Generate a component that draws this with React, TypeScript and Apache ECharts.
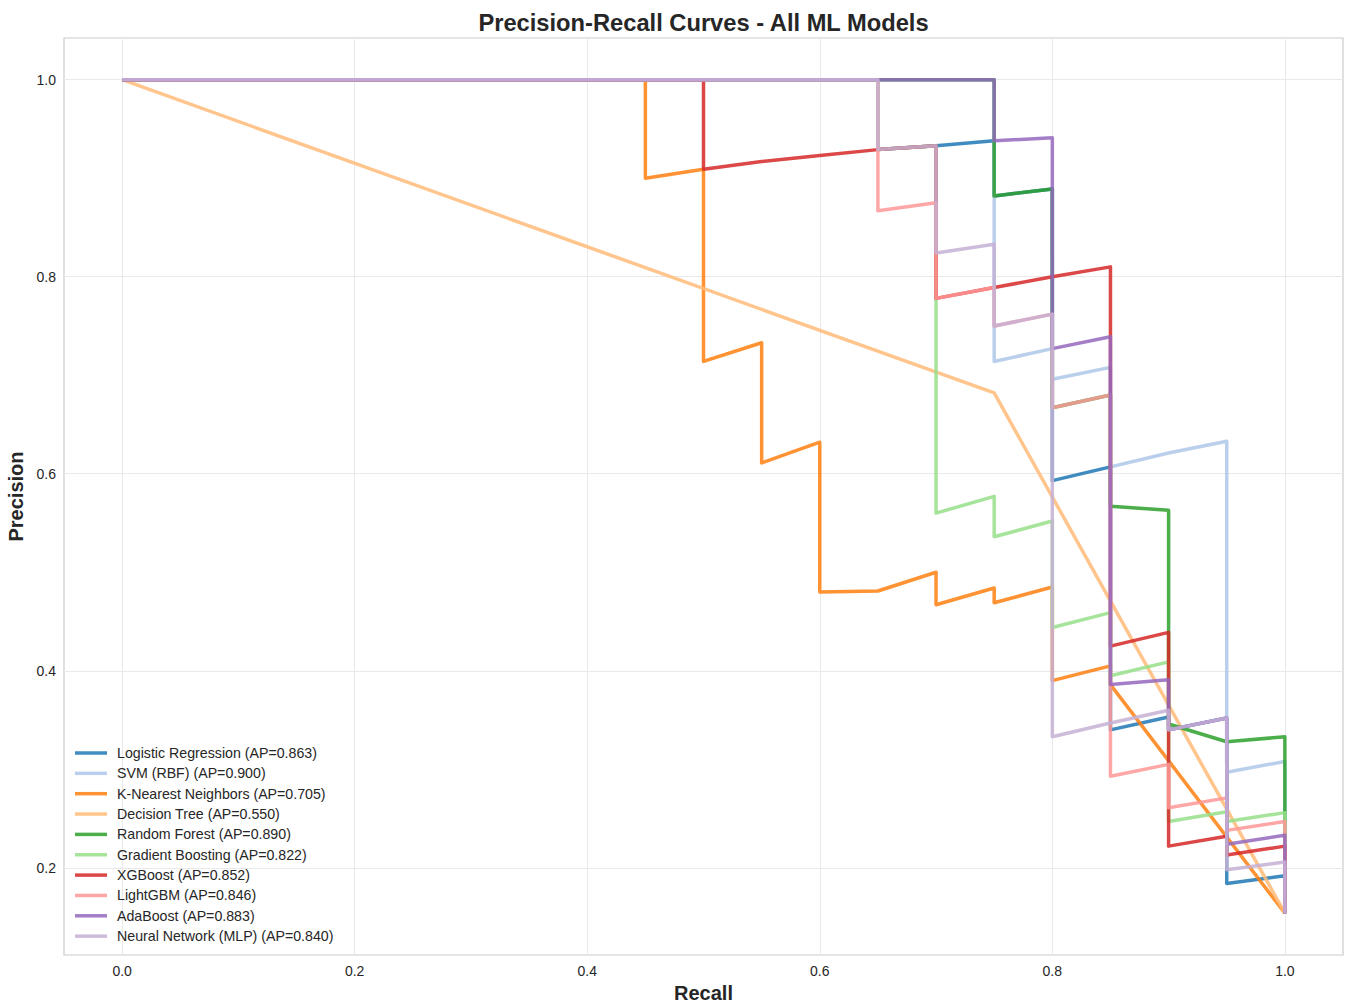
import React, { useEffect, useRef } from "react";
import * as echarts from "echarts";

// ---------- data ----------
const modelNames = [
  "Logistic Regression",
  "SVM (RBF)",
  "K-Nearest Neighbors",
  "Decision Tree",
  "Random Forest",
  "Gradient Boosting",
  "XGBoost",
  "LightGBM",
  "AdaBoost",
  "Neural Network (MLP)",
];
const modelAP = ["0.863", "0.900", "0.705", "0.550", "0.890", "0.822", "0.852", "0.846", "0.883", "0.840"];
const modelColors = [
  "#1f77b4", "#aec7e8", "#ff7f0e", "#ffbb78", "#2ca02c",
  "#98df8a", "#d62728", "#ff9896", "#9467bd", "#c5b0d5",
];

const lrRecall = [0, 0.65, 0.65, 0.7, 0.75, 0.75, 0.8, 0.8, 0.85, 0.85, 0.9, 0.9, 0.95, 0.95, 1.0, 1.0];
const lrPrecision = [1, 1, 0.929, 0.933, 0.938, 0.882, 0.889, 0.593, 0.607, 0.34, 0.353, 0.34, 0.352, 0.184, 0.192, 0.154];

const svmRecall = [0, 0.75, 0.75, 0.8, 0.8, 0.85, 0.85, 0.9, 0.95, 0.95, 1.0, 1.0];
const svmPrecision = [1, 1, 0.714, 0.727, 0.696, 0.708, 0.607, 0.621, 0.633, 0.297, 0.308, 0.154];

const knnRecall = [0, 0.45, 0.45, 0.5, 0.5, 0.55, 0.55, 0.6, 0.6, 0.65, 0.7, 0.7, 0.75, 0.75, 0.8, 0.8, 0.85, 0.85, 1.0];
const knnPrecision = [1, 1, 0.9, 0.909, 0.714, 0.733, 0.611, 0.632, 0.48, 0.481, 0.5, 0.467, 0.484, 0.469, 0.485, 0.39, 0.405, 0.386, 0.154];

const dtRecall = [0, 0.75, 1.0];
const dtPrecision = [1, 0.682, 0.154];

const rfRecall = [0, 0.75, 0.75, 0.8, 0.8, 0.85, 0.85, 0.9, 0.9, 0.95, 1.0, 1.0];
const rfPrecision = [1, 1, 0.882, 0.889, 0.667, 0.68, 0.567, 0.563, 0.346, 0.328, 0.333, 0.154];

const gbRecall = [0, 0.65, 0.65, 0.7, 0.7, 0.75, 0.75, 0.8, 0.8, 0.85, 0.85, 0.9, 0.9, 0.95, 0.95, 1.0, 1.0];
const gbPrecision = [1, 1, 0.929, 0.933, 0.56, 0.577, 0.536, 0.552, 0.444, 0.459, 0.395, 0.409, 0.247, 0.257, 0.247, 0.256, 0.154];

const xgbRecall = [0, 0.5, 0.5, 0.55, 0.6, 0.65, 0.7, 0.7, 0.75, 0.8, 0.85, 0.85, 0.9, 0.9, 0.95, 0.95, 1.0, 1.0];
const xgbPrecision = [1, 1, 0.909, 0.917, 0.923, 0.929, 0.933, 0.778, 0.789, 0.8, 0.81, 0.425, 0.439, 0.222, 0.232, 0.213, 0.222, 0.154];

const lgbmRecall = [0, 0.65, 0.65, 0.7, 0.7, 0.75, 0.75, 0.8, 0.8, 0.85, 0.85, 0.9, 0.9, 0.95, 0.95, 1.0, 1.0];
const lgbmPrecision = [1, 1, 0.867, 0.875, 0.778, 0.789, 0.75, 0.762, 0.667, 0.68, 0.293, 0.305, 0.261, 0.271, 0.238, 0.247, 0.154];

const adaRecall = [0, 0.75, 0.75, 0.8, 0.8, 0.85, 0.85, 0.9, 0.9, 0.95, 0.95, 1.0, 1.0];
const adaPrecision = [1, 1, 0.938, 0.941, 0.727, 0.739, 0.386, 0.391, 0.34, 0.352, 0.224, 0.233, 0.154];

const mlpRecall = [0, 0.65, 0.65, 0.7, 0.7, 0.75, 0.75, 0.8, 0.8, 0.85, 0.9, 0.9, 0.95, 0.95, 1.0, 1.0];
const mlpPrecision = [1, 1, 0.929, 0.933, 0.824, 0.833, 0.75, 0.762, 0.333, 0.347, 0.36, 0.34, 0.352, 0.198, 0.206, 0.154];

const xTicks = [0, 0.2, 0.4, 0.6, 0.8, 1.0];
const yTicks = [0.2, 0.4, 0.6, 0.8, 1.0];

const curves: [number[], number[]][] = [
  [lrRecall, lrPrecision],
  [svmRecall, svmPrecision],
  [knnRecall, knnPrecision],
  [dtRecall, dtPrecision],
  [rfRecall, rfPrecision],
  [gbRecall, gbPrecision],
  [xgbRecall, xgbPrecision],
  [lgbmRecall, lgbmPrecision],
  [adaRecall, adaPrecision],
  [mlpRecall, mlpPrecision],
];

const FONT = "'Liberation Sans', Arial, Helvetica, sans-serif";
const TEXT = "#262626";

export default function App() {
  const ref = useRef<HTMLDivElement>(null);

  useEffect(() => {
    document.body.style.margin = "0";
    if (!ref.current) return;
    const chart = echarts.init(ref.current, undefined, { renderer: "svg" });

    const labels = modelNames.map((n, i) => `${n} (AP=${modelAP[i]})`);

    const modelSeries = curves.map(([rec, prec], i) => ({
      type: "line",
      name: labels[i],
      data: rec.map((r, j) => [r, prec[j]]),
      showSymbol: false,
      symbol: "none",
      color: modelColors[i],
      itemStyle: { color: modelColors[i] },
      lineStyle: { width: 3.5, opacity: 0.85, join: "round", cap: "butt", color: modelColors[i] },
      z: 3,
      silent: true,
    }));

    const gridSeries = {
      type: "line",
      name: "__grid",
      data: [[0, 1]],
      showSymbol: false,
      symbol: "none",
      lineStyle: { opacity: 0 },
      silent: true,
      z: 1,
      markLine: {
        silent: true,
        symbol: ["none", "none"],
        z: 1,
        label: { show: false },
        lineStyle: { color: "#e9e9e9", width: 1, type: "solid" },
        emphasis: { disabled: true },
        data: [
          ...xTicks.map((v) => ({ xAxis: v })),
          ...yTicks.map((v) => ({ yAxis: v })),
        ],
      },
    };

    chart.setOption({
      animation: false,
      textStyle: { fontFamily: FONT },
      title: {
        text: "Precision-Recall Curves - All ML Models",
        left: 698.5,
        textAlign: "center",
        top: 6,
        textStyle: { fontFamily: FONT, fontSize: 23.7, fontWeight: "bold", color: TEXT },
      },
      grid: {
        left: 64,
        top: 38,
        right: 2,
        bottom: 48,
        containLabel: false,
        outerBoundsMode: "none",
        show: true,
        borderColor: "#cccccc",
        borderWidth: 1.2,
        backgroundColor: "transparent",
      },
      legend: {
        data: labels,
        orient: "vertical",
        left: 70,
        top: 741,
        icon: "rect",
        itemWidth: 32,
        itemHeight: 3.5,
        itemGap: 6.35,
        itemStyle: { opacity: 0.85 },
        textStyle: { fontFamily: FONT, fontSize: 14.2, color: TEXT, lineHeight: 14, padding: [0, 0, 0, 5] },
        selectedMode: false,
      },
      xAxis: {
        type: "value",
        min: -0.05,
        max: 1.05,
        axisLine: { show: false },
        axisTick: { show: false },
        splitLine: { show: false },
        axisLabel: {
          customValues: xTicks,
          formatter: (v: number) => v.toFixed(1),
          fontSize: 14,
          color: TEXT,
          margin: 9,
          fontFamily: FONT,
        },
        name: "Recall",
        nameLocation: "middle",
        nameGap: 34,
        nameTextStyle: { fontSize: 20, fontWeight: "bold", color: TEXT, verticalAlign: "middle", fontFamily: FONT },
      },
      yAxis: {
        type: "value",
        min: 0.1115,
        max: 1.0423,
        axisLine: { show: false },
        axisTick: { show: false },
        splitLine: { show: false },
        axisLabel: {
          customValues: yTicks,
          formatter: (v: number) => v.toFixed(1),
          fontSize: 14,
          color: TEXT,
          margin: 8,
          fontFamily: FONT,
        },
        name: "Precision",
        nameLocation: "middle",
        nameGap: 39,
        nameTextStyle: { fontSize: 20, fontWeight: "bold", color: TEXT, verticalAlign: "middle", fontFamily: FONT },
      },
      series: [gridSeries, ...modelSeries],
    });

    return () => chart.dispose();
  }, []);

  return <div ref={ref} style={{ width: 1345, height: 1003 }} />;
}
